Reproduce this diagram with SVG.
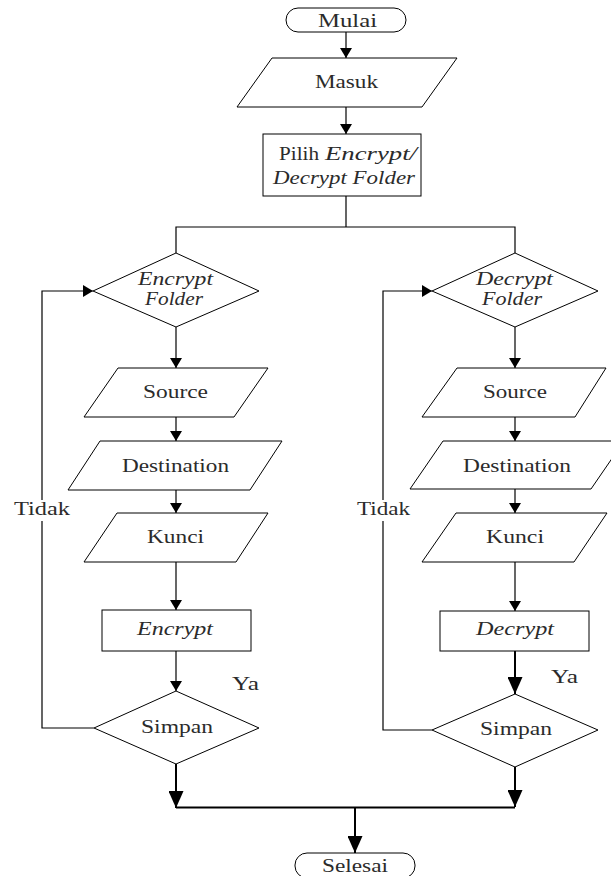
<svg xmlns="http://www.w3.org/2000/svg" width="611" height="876" viewBox="0 0 611 876">
  <style>
    .shape { fill: #fff; stroke: #000; stroke-width: 1; }
    .line { fill: none; stroke: #000; stroke-width: 1.2; }
    .thick { fill: none; stroke: #000; stroke-width: 2; }
    text { font-family: "Liberation Serif", "Times New Roman", serif; font-size: 18px; fill: #2b2b2b; }
    .it { font-style: italic; }
  </style>
  <defs>
    <marker id="arrow" markerUnits="userSpaceOnUse" markerWidth="14" markerHeight="12" viewBox="0 0 10 12" refX="10" refY="6" orient="auto">
      <path d="M0,0 L10,6 L0,12 Z" fill="#000"/>
    </marker>
    <marker id="arrowL" markerUnits="userSpaceOnUse" markerWidth="17" markerHeight="15" viewBox="0 0 17 15" refX="17" refY="7.5" orient="auto">
      <path d="M0,0 L17,7.5 L0,15 Z" fill="#000"/>
    </marker>
  </defs>

  <!-- connectors -->
  <g id="connectors">
    <path class="line" d="M346,32 V58" marker-end="url(#arrow)"/>
    <path class="line" d="M346,107 V134" marker-end="url(#arrow)"/>
    <path class="line" d="M346,196 V227 M176,253 V227 H515 V253"/>
    <!-- encrypt branch -->
    <path class="line" d="M176,327 V368" marker-end="url(#arrow)"/>
    <path class="line" d="M176,417 V441" marker-end="url(#arrow)"/>
    <path class="line" d="M176,490 V513" marker-end="url(#arrow)"/>
    <path class="line" d="M176,562 V610" marker-end="url(#arrow)"/>
    <path class="line" d="M176,651 V691" marker-end="url(#arrow)"/>
    <path class="thick" d="M176,764 V808" marker-end="url(#arrowL)"/>
    <path class="line" d="M94,728 H42 V521"/>
    <path class="line" d="M42,500 V291 H93" marker-end="url(#arrow)"/>
    <!-- decrypt branch -->
    <path class="line" d="M515,327 V368" marker-end="url(#arrow)"/>
    <path class="line" d="M515,417 V441" marker-end="url(#arrow)"/>
    <path class="line" d="M515,489 V513" marker-end="url(#arrow)"/>
    <path class="line" d="M515,562 V611" marker-end="url(#arrow)"/>
    <path class="thick" d="M515,651 V694" marker-end="url(#arrowL)"/>
    <path class="thick" d="M515,767 V807" marker-end="url(#arrowL)"/>
    <path class="line" d="M432,730 H383 V521"/>
    <path class="line" d="M383,500 V291 H432" marker-end="url(#arrow)"/>
    <!-- merge -->
    <path class="thick" d="M176,807.5 H515"/>
    <path class="thick" d="M355,808 V853" marker-end="url(#arrowL)"/>
  </g>

  <g id="mulai">
    <rect class="shape" x="286" y="8" width="120" height="24" rx="12"/>
    <text x="318" y="27" textLength="59" lengthAdjust="spacingAndGlyphs">Mulai</text>
  </g>

  <g id="masuk">
    <polygon class="shape" points="272,58 457,58 422,107 237,107"/>
    <text x="315" y="88" textLength="63" lengthAdjust="spacingAndGlyphs">Masuk</text>
  </g>

  <g id="pilih">
    <rect class="shape" x="263" y="134" width="158" height="62"/>
    <text x="279" y="160" textLength="40" lengthAdjust="spacingAndGlyphs">Pilih</text>
    <text class="it" x="325" y="160" textLength="92" lengthAdjust="spacingAndGlyphs">Encrypt/</text>
    <text class="it" x="273" y="184" textLength="142" lengthAdjust="spacingAndGlyphs">Decrypt Folder</text>
  </g>

  <!-- encrypt branch -->
  <g id="encrypt-folder">
    <polygon class="shape" points="176,253 259,291 176,327 93,291"/>
    <text class="it" x="138" y="285" textLength="75" lengthAdjust="spacingAndGlyphs">Encrypt</text>
    <text class="it" x="145" y="305" textLength="58" lengthAdjust="spacingAndGlyphs">Folder</text>
  </g>

  <g id="source-enc">
    <polygon class="shape" points="118,368 268,368 234,417 84,417"/>
    <text x="143" y="398" textLength="65" lengthAdjust="spacingAndGlyphs">Source</text>
  </g>

  <g id="destination-enc">
    <polygon class="shape" points="100,441 282,441 250,490 68,490"/>
    <text x="122" y="472" textLength="107" lengthAdjust="spacingAndGlyphs">Destination</text>
  </g>

  <g id="kunci-enc">
    <polygon class="shape" points="117,513 268,513 236,562 84,562"/>
    <text x="147" y="543" textLength="57" lengthAdjust="spacingAndGlyphs">Kunci</text>
  </g>

  <g id="encrypt">
    <rect class="shape" x="102" y="610" width="149" height="41"/>
    <text class="it" x="137" y="635" textLength="76" lengthAdjust="spacingAndGlyphs">Encrypt</text>
  </g>

  <g id="simpan-enc">
    <polygon class="shape" points="176,691 259,728 176,764 94,728"/>
    <text x="141" y="733" textLength="72" lengthAdjust="spacingAndGlyphs">Simpan</text>
  </g>

  <g id="labels-enc">
    <text x="14" y="515" textLength="56" lengthAdjust="spacingAndGlyphs">Tidak</text>
    <text x="232" y="690" textLength="27" lengthAdjust="spacingAndGlyphs">Ya</text>
  </g>

  <!-- decrypt branch -->
  <g id="decrypt-folder">
    <polygon class="shape" points="515,253 598,291 515,327 432,291"/>
    <text class="it" x="476" y="285" textLength="77" lengthAdjust="spacingAndGlyphs">Decrypt</text>
    <text class="it" x="482" y="305" textLength="60" lengthAdjust="spacingAndGlyphs">Folder</text>
  </g>

  <g id="source-dec">
    <polygon class="shape" points="457,368 606,368 575,417 422,417"/>
    <text x="483" y="398" textLength="64" lengthAdjust="spacingAndGlyphs">Source</text>
  </g>

  <g id="destination-dec">
    <polygon class="shape" points="443,441 624,441 591,489 410,489"/>
    <text x="463" y="472" textLength="108" lengthAdjust="spacingAndGlyphs">Destination</text>
  </g>

  <g id="kunci-dec">
    <polygon class="shape" points="456,513 607,513 574,562 422,562"/>
    <text x="486" y="543" textLength="58" lengthAdjust="spacingAndGlyphs">Kunci</text>
  </g>

  <g id="decrypt">
    <rect class="shape" x="440" y="611" width="149" height="40"/>
    <text class="it" x="476" y="635" textLength="78" lengthAdjust="spacingAndGlyphs">Decrypt</text>
  </g>

  <g id="simpan-dec">
    <polygon class="shape" points="515,694 598,730 515,767 432,730"/>
    <text x="480" y="735" textLength="72" lengthAdjust="spacingAndGlyphs">Simpan</text>
  </g>

  <g id="labels-dec">
    <text x="357" y="515" textLength="53" lengthAdjust="spacingAndGlyphs">Tidak</text>
    <text x="551" y="683" textLength="27" lengthAdjust="spacingAndGlyphs">Ya</text>
  </g>

  <g id="selesai">
    <rect class="shape" x="295" y="853" width="120" height="25" rx="12"/>
    <text x="322" y="872" textLength="66" lengthAdjust="spacingAndGlyphs">Selesai</text>
  </g>
</svg>
